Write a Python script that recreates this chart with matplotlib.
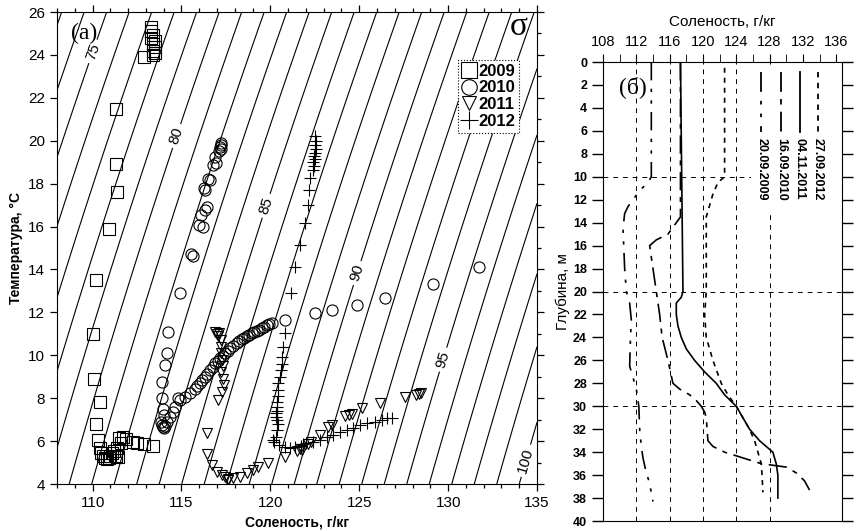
import matplotlib
matplotlib.use('Agg')
import matplotlib.pyplot as plt
import numpy as np
from matplotlib.patches import Rectangle

plt.rcParams['font.family'] = ['Liberation Sans', 'DejaVu Sans']

# ---- (a) T-S diagram: salinity g/kg, temperature C ----
s09 = [113.3, 113.3, 113.4, 113.3, 113.5, 113.4, 113.5, 113.4, 113.5, 113.4, 112.9,
       111.3, 111.3, 111.35, 110.9, 110.2, 110.0, 110.1, 110.4, 110.2, 110.3,
       110.4, 110.5, 110.6, 110.7, 110.8, 110.9, 111.0, 111.1, 111.2, 111.3, 111.45,
       111.4, 111.6, 111.5, 111.7, 111.9, 112.3, 112.5, 112.9, 113.4]
t09 = [25.3, 25.1, 24.95, 24.8, 24.65, 24.5, 24.35, 24.2, 24.1, 24.0, 23.9,
       21.5, 18.9, 17.6, 15.9, 13.5, 11.0, 8.9, 7.8, 6.8, 6.05,
       5.7, 5.45, 5.3, 5.2, 5.15, 5.2, 5.3, 5.45, 5.55, 5.3, 5.25,
       5.7, 5.9, 6.15, 6.2, 6.1, 5.95, 5.9, 5.85, 5.75]

s10 = [117.2, 117.15, 117.25, 117.1, 117.2, 116.9, 116.95, 116.8, 116.5, 116.6,
       116.25, 116.35, 116.45, 116.35, 116.1, 116.2, 116.0, 115.55, 115.65, 114.9,
       114.26, 114.17, 114.07, 113.9, 113.9, 113.95, 114.0, 113.85, 113.9, 114.0, 114.1,
       113.98, 114.2, 114.36, 114.5, 114.64, 114.8, 114.92, 115.2, 115.48, 115.76, 115.9,
       116.04, 116.18, 116.32, 116.46, 116.6, 116.75, 116.89, 117.03, 117.17, 117.31,
       117.45, 117.6, 117.73, 117.9, 118.1, 118.25, 118.39, 118.53, 118.67, 118.8,
       118.95, 119.1, 119.23, 119.37, 119.51, 119.65, 119.79, 119.94, 120.08,
       120.82, 122.51, 123.45, 124.85, 126.45, 129.17, 131.75]
t10 = [19.8, 19.7, 19.6, 19.5, 19.9, 19.25, 18.95, 18.85, 18.2, 18.15,
       17.8, 17.7, 16.9, 16.75, 16.55, 16.0, 16.05, 14.7, 14.65, 12.9,
       11.1, 10.1, 9.55, 8.75, 8.0, 7.5, 7.2, 6.9, 6.75, 6.6, 6.7,
       6.67, 6.9, 7.13, 7.35, 7.6, 8.0, 7.91, 8.07, 8.22, 8.41, 8.55,
       8.69, 8.85, 9.0, 9.15, 9.31, 9.45, 9.62, 9.75, 9.86, 9.98,
       10.09, 10.2, 10.32, 10.44, 10.55, 10.65, 10.74, 10.82, 10.9, 10.96,
       11.02, 11.08, 11.14, 11.2, 11.25, 11.33, 11.41, 11.46, 11.51,
       11.64, 11.95, 12.11, 12.34, 12.65, 13.32, 14.1]

s11 = [116.9, 117.0, 117.1, 117.05, 117.2, 117.25, 117.2, 117.3, 117.35, 117.25,
       117.35, 117.4, 117.3, 117.07, 116.42, 116.42, 116.7, 116.98, 117.3, 117.45,
       117.63, 117.6, 117.92, 118.29, 118.67, 119.04, 119.32, 119.89, 120.82, 121.5,
       121.67, 121.8, 122.1, 122.3, 122.79, 123.24, 123.45, 124.2, 124.4, 124.6,
       125.13, 126.17, 127.57, 128.2, 128.36, 128.5]
t11 = [11.1, 11.0, 11.05, 10.9, 10.7, 10.4, 10.1, 9.8, 9.5, 9.2,
       8.9, 8.6, 8.3, 7.91, 6.36, 5.4, 4.88, 4.57, 4.4, 4.32,
       4.18, 4.22, 4.26, 4.34, 4.49, 4.65, 4.8, 4.99, 5.27, 5.55,
       5.63, 5.6, 5.85, 5.95, 6.28, 6.67, 6.75, 7.15, 7.2, 7.28,
       7.52, 7.76, 8.07, 8.15, 8.19, 8.22]

s12 = [122.5, 122.55, 122.5, 122.55, 122.5, 122.45, 122.5, 122.4, 122.45, 122.4,
       122.23, 122.2, 122.14, 121.95, 121.67, 121.39, 121.14, 120.82, 120.73, 120.64,
       120.64, 120.6, 120.55, 120.45, 120.45, 120.45, 120.4, 120.36, 120.36, 120.3,
       120.3, 120.36, 120.45, 120.4, 120.3, 120.17, 120.2, 120.5, 120.8, 121.1,
       121.4, 121.7, 121.85, 122.0, 122.42, 122.79, 123.17, 123.54, 123.92, 124.29,
       124.67, 125.04, 125.42, 125.88, 126.26, 126.54, 126.82]
t12 = [20.2, 20.0, 19.8, 19.6, 19.45, 19.3, 19.15, 19.0, 18.8, 18.65,
       18.25, 17.7, 17.0, 16.15, 15.14, 14.13, 12.89, 11.02, 10.4, 9.93,
       9.6, 9.3, 9.0, 8.7, 8.4, 8.1, 7.8, 7.6, 7.4, 7.3,
       7.1, 7.0, 6.8, 6.5, 6.2, 6.05, 5.95, 5.8, 5.74, 5.7,
       5.74, 5.78, 5.85, 5.9, 5.97, 6.05, 6.2, 6.28, 6.43, 6.51,
       6.59, 6.75, 6.83, 6.9, 6.98, 7.06, 7.06]

sigma_levels = np.arange(72, 102)
sigma_labels = [75, 80, 85, 90, 95, 100]
label_pos = [(109.9, 24.2), (114.8, 20.2), (120.0, 16.9), (125.0, 13.8), (129.7, 9.8), (134.3, 5.1)]

# ---- (б) salinity profiles: depth m, salinity g/kg ----
d09 = [0, 10, 10.5, 11.2, 12, 12.6, 13.2, 14.5, 18, 20, 21, 22.5, 24, 26.5, 27.5,
       28.5, 30, 32, 33.5, 34.5, 35.5, 36.5, 37.5, 38.3]
p09 = [113.8, 113.8, 113.4, 112.4, 111.6, 111.0, 110.6, 110.4, 110.6, 110.8, 111.2,
       111.4, 111.3, 111.2, 111.6, 112.0, 112.3, 112.4, 112.6, 112.8, 113.1, 113.5,
       113.8, 114.0]
d10 = [0, 13.5, 14, 15, 15.5, 16, 17, 18, 20, 22, 24, 26, 28, 28.5, 29, 29.5, 30,
       30.5, 31, 33, 33.5, 34, 34.5, 35, 35.1, 35.3, 35.8, 36.5, 37.3]
p10 = [117.3, 117.3, 116.8, 115.8, 114.4, 113.6, 113.8, 114.0, 114.4, 114.8, 115.1,
       115.8, 116.4, 117.2, 118.4, 119.2, 119.8, 120.2, 120.4, 120.6, 121.2, 122.6,
       124.8, 127.0, 128.0, 130.0, 131.2, 132.2, 132.8]
d11 = [0, 20, 20.5, 21, 22, 23, 24, 25, 26, 27, 28, 29, 30, 31, 32, 33, 34, 35, 36, 38]
p11 = [117.3, 117.6, 117.4, 116.8, 116.8, 117.0, 117.4, 118.0, 119.0, 120.2, 121.6,
       122.6, 124.0, 124.8, 125.6, 126.8, 128.4, 128.8, 129.0, 129.0]
d12 = [0.5, 10, 10.5, 11.5, 12.5, 13.5, 20, 22, 24, 26, 28, 29, 30, 31, 32, 33, 34,
       35, 36, 37.5]
p12 = [122.6, 122.6, 121.8, 121.2, 120.8, 120.4, 120.4, 120.2, 120.4, 121.2, 122.2,
       123.0, 124.0, 124.8, 125.6, 126.2, 126.6, 127.0, 127.1, 127.2]
dates = ['20.09.2009', '16.09.2010', '04.11.2011', '27.09.2012']


def sigma(S, T):
    # brine density anomaly fitted to the isolines of the original figure
    return 100 + 0.79 * (S - 134) - 0.27 * (T - 4) - 0.0015 * (T - 4) ** 2


fig = plt.figure(figsize=(8.59, 5.31), dpi=100)

# ---------- left panel ----------
ax = fig.add_axes([0.0664, 0.0885, 0.5588, 0.8889])
SS, TT = np.meshgrid(np.linspace(108, 135, 300), np.linspace(4, 26, 300))
SIG = sigma(SS, TT)
plain = [v for v in sigma_levels if v not in sigma_labels]
ax.contour(SS, TT, SIG, levels=plain, colors='k', linewidths=0.8)
cs = ax.contour(SS, TT, SIG, levels=sigma_labels, colors='k', linewidths=0.8)
ax.clabel(cs, manual=label_pos, fmt='%d', fontsize=11, inline=True, inline_spacing=4)

mk = dict(linestyle='none', mfc='none', mec='k', mew=0.8)
ax.plot(s09, t09, marker='s', ms=8, label='2009', **mk)
ax.plot(s10, t10, marker='o', ms=8, label='2010', **mk)
ax.plot(s11, t11, marker='v', ms=7.5, label='2011', **mk)
ax.plot(s12, t12, marker='+', ms=9, label='2012', **mk)

ax.set_xlim(108, 135)
ax.set_ylim(4, 26)
ax.set_xticks(np.arange(110, 136, 5))
ax.set_xticks(np.arange(108, 136, 1), minor=True)
ax.set_yticks(np.arange(4, 27, 2))
ax.set_yticks(np.arange(4, 27, 1), minor=True)
ax.tick_params(which='both', direction='out', top=True, right=True, labelsize=11, width=0.9)
ax.tick_params(which='major', length=5)
ax.tick_params(which='minor', length=3)
ax.tick_params(axis='y', which='minor', left=False)
ax.set_xlabel('Соленость, г/кг', fontsize=10, fontweight='bold', labelpad=4)
ax.set_ylabel('Температура, °C', fontsize=10, fontweight='bold', labelpad=4)
ax.text(0.03, 0.955, '(a)', transform=ax.transAxes, fontsize=17, family='Liberation Serif',
        ha='left', va='center')
ax.text(0.962, 0.968, 'σ', transform=ax.transAxes, fontsize=24, family='Liberation Serif',
        ha='center', va='center')
leg = ax.legend(loc='upper right', bbox_to_anchor=(0.98, 0.917), markerscale=1.4,
                handlelength=0.8, handletextpad=0.15, borderpad=0.25, labelspacing=0.1,
                fancybox=False, framealpha=1, prop={'weight': 'bold', 'size': 12})
leg.get_frame().set_linestyle(':')
leg.get_frame().set_edgecolor('k')
leg.get_frame().set_linewidth(0.8)

# ---------- right panel ----------
ax2 = fig.add_axes([0.702, 0.0188, 0.2782, 0.8644])
for g in [112, 116, 120, 124, 128]:
    ax2.axvline(g, color='k', lw=0.7, dashes=(5, 5), zorder=1)
for g in [10, 20, 30]:
    ax2.axhline(g, color='k', lw=0.7, dashes=(5, 5), zorder=1)
ax2.add_patch(Rectangle((125.8, 0.3), 11, 12.7, facecolor='white', edgecolor='none', zorder=2))

styles = [(0, (11, 5, 2, 5, 2, 5)), (0, (11, 4, 3, 4)), '-', (0, (3, 3))]
profiles = [(p09, d09), (p10, d10), (p11, d11), (p12, d12)]
for (s, d), st in zip(profiles, styles):
    ax2.plot(s, d, color='k', lw=1.2, linestyle=st, zorder=3)

# rotated legend like in the original
leg_x = [127.0, 129.4, 131.6, 133.8]
for x, st, name in zip(leg_x, styles, dates):
    ax2.plot([x, x], [0.85, 6.1], color='k', lw=1.3, linestyle=st, zorder=3)
    ax2.text(x, 6.6, name, rotation=270, ha='center', va='top', fontsize=9, fontweight='bold', zorder=3)

ax2.text(111.6, 2.2, '(б)', fontsize=17, family='Liberation Serif', ha='center', va='center')

ax2.set_xlim(108, 136.7)
ax2.set_ylim(40, 0)
ax2.xaxis.tick_top()
ax2.xaxis.set_label_position('top')
ax2.set_xticks(np.arange(108, 137, 4))
ax2.set_xticks(np.arange(108, 137, 2), minor=True)
ax2.set_yticks(np.arange(0, 41, 2))
ax2.tick_params(axis='x', which='both', direction='out', top=True, bottom=False, labelsize=10.5, length=6)
ax2.tick_params(axis='y', which='both', direction='out', left=True, right=True, labelsize=9, length=8, width=1)
for t in ax2.get_yticklabels():
    t.set_fontweight('bold')
ax2.set_xlabel('Соленость, г/кг', fontsize=11, labelpad=6)
ax2.set_ylabel('Глубина, м', fontsize=11, labelpad=2)

fig.savefig('out.png', dpi=100)
